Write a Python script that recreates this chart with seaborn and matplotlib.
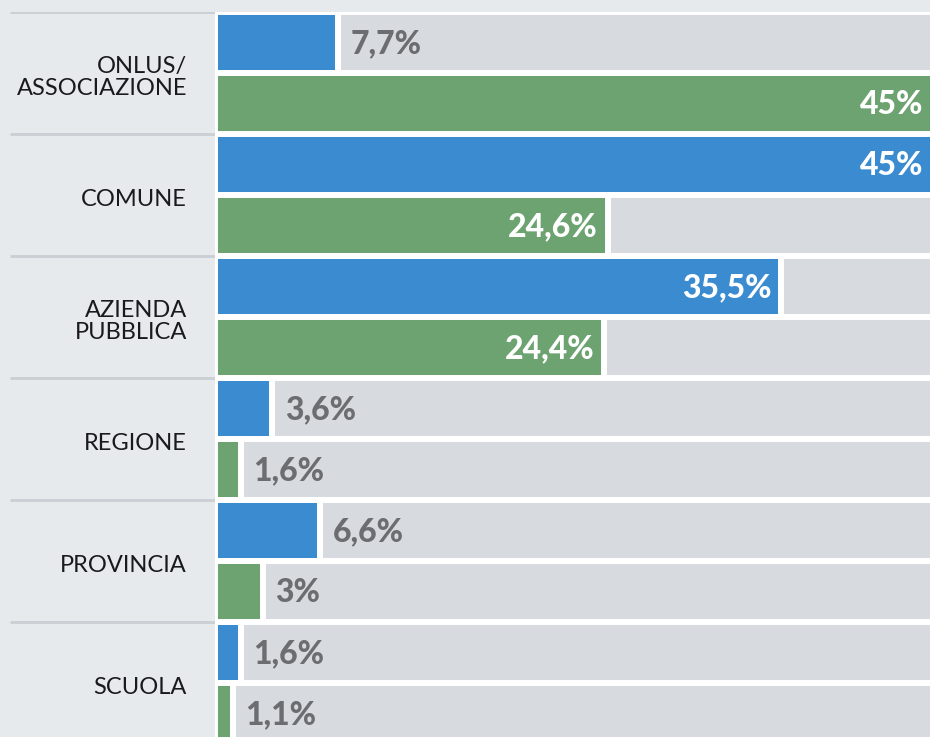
import matplotlib
matplotlib.use("Agg")
import matplotlib.pyplot as plt
import seaborn as sns
import pandas as pd

# Enti e percentuali delle due serie
categorie = ["ONLUS/\nASSOCIAZIONE", "COMUNE", "AZIENDA\nPUBBLICA", "REGIONE", "PROVINCIA", "SCUOLA"]
valori_blu = [7.7, 45.0, 35.5, 3.6, 6.6, 1.6]
valori_verde = [45.0, 24.6, 24.4, 1.6, 3.0, 1.1]
etichette_blu = ["7,7%", "45%", "35,5%", "3,6%", "6,6%", "1,6%"]
etichette_verde = ["45%", "24,6%", "24,4%", "1,6%", "3%", "1,1%"]

BLU = "#3a8bd0"
VERDE = "#6ca371"
TRACCIA = "#d7dbdf"
SFONDO = "#e6eaed"
SEPARATORE = "#c9cfd4"
GRIGIO_TESTO = "#6b6d70"

df = pd.DataFrame({
    "categoria": categorie * 2,
    "serie": ["blu"] * len(categorie) + ["verde"] * len(categorie),
    "valore": valori_blu + valori_verde,
    "etichetta": etichette_blu + etichette_verde,
})
xmax = df["valore"].max()
df["traccia"] = xmax

sns.set_theme(style="white")
plt.rcParams["font.family"] = ["Lato", "DejaVu Sans"]

W, H = 930, 737
fig = plt.figure(figsize=(W / 100, H / 100), dpi=100, facecolor=SFONDO)

left_px, top_px, group_px = 215, 12, 122
right_px = W + 3
n = len(categorie)
bottom_px = top_px + n * group_px
ax = fig.add_axes([left_px / W, 1 - bottom_px / H, (right_px - left_px) / W, (bottom_px - top_px) / H])
ax_lab = fig.add_axes([0, 1 - bottom_px / H, left_px / W, (bottom_px - top_px) / H], sharey=ax)
ax.set_facecolor("white")
ax_lab.set_facecolor(SFONDO)

# Tracce grigie di sfondo e barre
sns.barplot(data=df, x="traccia", y="categoria", hue="serie", order=categorie,
            hue_order=["blu", "verde"], palette=[TRACCIA, TRACCIA], width=1.0,
            edgecolor="white", linewidth=4.3, legend=False, ax=ax, saturation=1)
sns.barplot(data=df, x="valore", y="categoria", hue="serie", order=categorie,
            hue_order=["blu", "verde"], palette=[BLU, VERDE], width=1.0,
            edgecolor="white", linewidth=4.3, legend=False, ax=ax, saturation=1)

ax.set_xlim(0, xmax)
ax.set_ylim(n - 0.5, -0.5)
ax.set_xlabel("")
ax.set_ylabel("")
ax.set_xticks([])
ax.tick_params(left=False, labelleft=False)
for s in ax.spines.values():
    s.set_visible(False)

# Etichette dei valori
for _, r in df.iterrows():
    i = categorie.index(r["categoria"])
    y = i - 0.25 if r["serie"] == "blu" else i + 0.25
    if r["valore"] >= 20:
        ax.annotate(r["etichetta"], (r["valore"], y), xytext=(-7, -1), textcoords="offset points",
                    ha="right", va="center", color="white", fontsize=23, fontweight="black")
    else:
        ax.annotate(r["etichetta"], (r["valore"], y), xytext=(9, -1), textcoords="offset points",
                    ha="left", va="center", color=GRIGIO_TESTO, fontsize=23, fontweight="black")

# Pannello delle categorie
ax_lab.set_xlim(0, left_px)
for k in range(n):
    ax_lab.plot([10, left_px], [k - 0.5, k - 0.5], color=SEPARATORE, lw=2, solid_capstyle="butt")
    ax_lab.annotate(categorie[k], (187, k), xytext=(0, -3), textcoords="offset points",
                    ha="right", va="center", ma="right", fontsize=17, color="#1a1a1a",
                    linespacing=1.05)
ax_lab.set_xticks([])
ax_lab.tick_params(left=False, labelleft=False, bottom=False, labelbottom=False)
for s in ax_lab.spines.values():
    s.set_visible(False)

fig.savefig("out.png", dpi=100, facecolor=SFONDO)
